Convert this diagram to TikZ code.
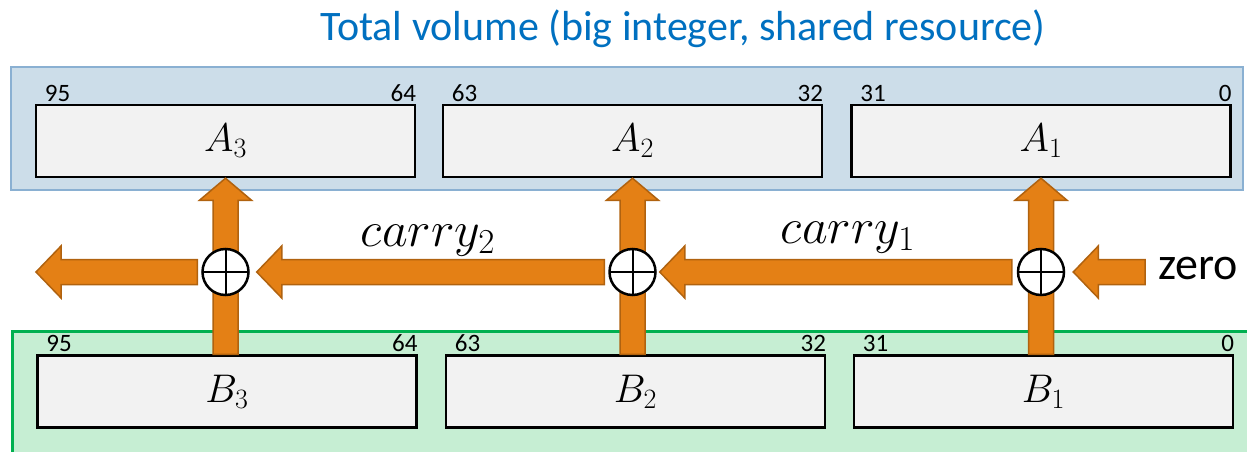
\RequirePackage{fix-cm}
\documentclass[tikz,border=0pt]{standalone}
\usepackage[no-math]{fontspec}
\setmainfont{Carlito}
\usepackage{tikz}
\usetikzlibrary{calc}
\definecolor{volblue}{HTML}{CCDDE9}
\definecolor{volblueline}{HTML}{8AB0D2}
\definecolor{opgreen}{HTML}{C6EED3}
\definecolor{opgreenline}{HTML}{00B050}
\definecolor{wordgray}{HTML}{F2F2F2}
\definecolor{carryorange}{HTML}{E48015}
\definecolor{carryedge}{HTML}{B0620F}
\definecolor{titleblue}{HTML}{0070C0}

% fat block arrows: #1 tail, #2 tip
\newcommand{\leftfat}[2]{%
  \draw[fat] ($(#1)+(0,-12.5)$) -- ($(#2)+(25,-12.5)$) -- ($(#2)+(25,-26)$) -- (#2)
    -- ($(#2)+(25,26)$) -- ($(#2)+(25,12.5)$) -- ($(#1)+(0,12.5)$) -- cycle;}
\newcommand{\upfat}[2]{%
  \draw[fat] ($(#1)+(-12.5,0)$) -- ($(#2)+(-12.5,22)$) -- ($(#2)+(-26,22)$) -- (#2)
    -- ($(#2)+(26,22)$) -- ($(#2)+(12.5,22)$) -- ($(#1)+(12.5,0)$) -- cycle;}

\begin{document}
\begin{tikzpicture}[
    x=1pt, y=-1pt,
    word/.style={draw, line width=2.5pt, fill=wordgray, minimum width=379pt, minimum height=72pt, inner sep=0pt, font=\fontsize{40}{44}\selectfont},
    bitnum/.style={inner sep=0pt, font=\fontsize{25}{28}\selectfont},
    adder/.style={circle, draw, line width=2.5pt, fill=white, minimum size=46pt, inner sep=0pt,
      path picture={\draw[line width=2pt] (path picture bounding box.north) -- (path picture bounding box.south)
        (path picture bounding box.west) -- (path picture bounding box.east);}},
    fat/.style={fill=carryorange, draw=carryedge, line width=1.5pt, line join=miter},
    carrylbl/.style={inner sep=0pt, font=\fontsize{50}{56}\selectfont}
]
\useasboundingbox (0,0) rectangle (1247,452);

% shared resource and operand bands
\draw[fill=volblue, draw=volblueline, line width=2.5pt] (11,67) rectangle (1243,190);
\draw[fill=opgreen, draw=opgreenline, line width=3pt] (12,331) rectangle (1260,470);
\node[text=titleblue, font=\fontsize{42}{48}\selectfont, anchor=base] (title) at (683,41) {Total volume (big integer, shared resource)};

\node[word] (A3) at (225.5,141) {$A_3$};
\node[word] (A2) at (632.5,141) {$A_2$};
\node[word] (A1) at (1041,141) {$A_1$};
\node[word] (B3) at (227,391.5) {$B_3$};
\node[word] (B2) at (635.5,391.5) {$B_2$};
\node[word] (B1) at (1043.5,391.5) {$B_1$};

\foreach \w/\hi/\lo in {A3/95/64, A2/63/32, A1/31/0, B3/95/64, B2/63/32, B1/31/0} {
  \node[bitnum, anchor=south west] (\w hi) at ($(\w.north west)+(10,-2)$) {\hi};
  \node[bitnum, anchor=south east] (\w lo) at ($(\w.north east)+(0,-2)$) {\lo};
}

% word additions
\foreach \i in {3,2,1} {
  \coordinate (v\i tail) at (A\i.south |- B\i.north);
  \upfat{v\i tail}{A\i.south}
  \node[adder] (add\i) at (A\i.south |- 0,272) {};
}

\coordinate (c2tail) at ($(add2.west)+(-4,0)$);
\coordinate (c2tip) at ($(add3.east)+(7,0)$);
\coordinate (c1tail) at ($(add1.west)+(-5,0)$);
\coordinate (c1tip) at ($(add2.east)+(3,0)$);
\coordinate (c3tail) at ($(add3.west)+(-4,0)$);
\coordinate (c3tip) at (36,272);
\coordinate (z0tip) at ($(add1.east)+(8,0)$);
\node[anchor=west, inner sep=0pt, font=\fontsize{46}{50}\selectfont] (zero) at (1158,268) {zero};
\coordinate (z0tail) at (1145,272);

\leftfat{c2tail}{c2tip}
\leftfat{c1tail}{c1tip}
\leftfat{c3tail}{c3tip}
\leftfat{z0tail}{z0tip}

\node[carrylbl, anchor=base] (carry2) at (428,246) {$carry_2$};
\node[carrylbl, anchor=base] (carry1) at (848,243) {$carry_1$};
\end{tikzpicture}
\end{document}
